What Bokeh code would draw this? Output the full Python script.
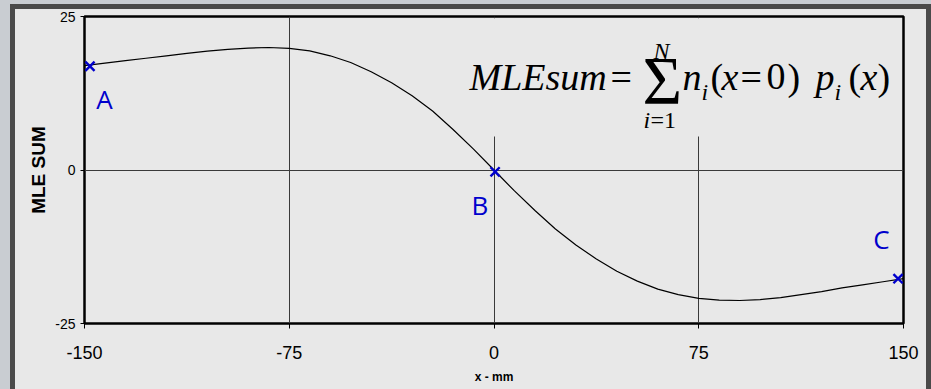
from bokeh.plotting import figure
from bokeh.models import Range1d, FixedTicker, Label, CustomJSTickFormatter, GlobalInlineStyleSheet
from bokeh.embed import file_html
from bokeh.resources import INLINE

# MLE sum profile along the x position (mm)
x_mm = [-150, -142.5, -135, -127.5, -120, -112.5, -105, -97.5, -90, -82.5,
        -75, -67.5, -60, -52.5, -45, -37.5, -30, -22.5, -15, -7.5,
        0, 7.5, 15, 22.5, 30, 37.5, 45, 52.5, 60, 67.5,
        75, 82.5, 90, 97.5, 105, 112.5, 120, 127.5, 135, 142.5, 150]
mle_sum = [17.0, 17.4, 17.8, 18.2, 18.6, 19.0, 19.35, 19.65, 19.85, 19.95,
           19.8, 19.4, 18.6, 17.5, 16.0, 14.2, 12.1, 9.6, 6.6, 3.4,
           0.0, -3.4, -6.6, -9.6, -12.2, -14.5, -16.5, -18.1, -19.4, -20.3,
           -20.9, -21.2, -21.25, -21.1, -20.8, -20.3, -19.8, -19.2, -18.7, -18.2, -17.7]

# marked positions A, B, C
point_names = ["A", "B", "C"]
point_x = [-148.0, 0.4, 148.0]
point_y = [16.9, -0.3, -17.7]

x_ticks = [-150, -75, 0, 75, 150]
y_ticks = [-25, 0, 25]

BG = "#e8e8e8"
BLUE = "#0000cc"

p = figure(width=931, height=389, output_backend="svg", toolbar_location=None,
           x_range=Range1d(-150, 150), y_range=Range1d(-25, 25),
           min_border_left=84, min_border_right=28, min_border_top=16, min_border_bottom=66,
           background_fill_color=BG, border_fill_color=None)

# window frame: pale outer strip with a dark rim, painted behind the transparent border area
p.stylesheets = [GlobalInlineStyleSheet(css="html, body { margin: 0; }")]
p.styles = {"background-color": BG,
            "box-shadow": ("inset 10px 4px 0px 0px #c9cdd2, "
                           "inset 15px 9px 0px 0px #4a4a4a, "
                           "inset -5px 0px 0px 0px #4a4a4a")}

p.outline_line_color = "black"
p.outline_line_width = 2.5

plain = CustomJSTickFormatter(code="return String(tick);")
p.xaxis.ticker = FixedTicker(ticks=x_ticks)
p.yaxis.ticker = FixedTicker(ticks=y_ticks)
for ax in (p.xaxis[0], p.yaxis[0]):
    ax.formatter = plain
    ax.axis_line_color = None
    ax.minor_tick_line_color = None
    ax.major_tick_in = 0
    ax.major_tick_line_color = "black"
    ax.major_label_text_font = "Liberation Sans"
    ax.major_label_text_color = "black"
    ax.axis_label_text_font = "Liberation Sans"
    ax.axis_label_text_font_style = "bold"
    ax.axis_label_text_color = "black"

p.xaxis.major_tick_out = 5
p.xaxis.major_label_text_font_size = "18px"
p.xaxis.major_label_standoff = 17
p.xaxis.axis_label = "x - mm"
p.xaxis.axis_label_text_font_size = "12px"
p.xaxis.axis_label_standoff = 8

p.yaxis.major_tick_out = 4
p.yaxis.major_label_text_font_size = "14px"
p.yaxis.major_label_standoff = 5
p.yaxis.axis_label = "MLE SUM"
p.yaxis.axis_label_text_font_size = "19px"
p.yaxis.axis_label_standoff = 3

p.grid.grid_line_color = "#3a3a3a"
p.grid.grid_line_width = 1

# plain panel behind the formula hides the grid lines there
p.quad(left=-5, right=149.3, bottom=5.46, top=24.7, fill_color=BG, line_color=None)

p.line(x_mm, mle_sum, line_color="black", line_width=1.2)
p.scatter(point_x, point_y, marker="x", size=13, line_color=BLUE, line_width=2.4)

label_pos = [(-142.7, 11.64), (-5.2, -5.78), (141.9, -11.3)]
for name, (lx, ly) in zip(point_names, label_pos):
    p.add_layout(Label(x=lx, y=ly, text=name, text_font="Open Sans", text_font_size="26px",
                       text_color=BLUE, text_align="center", text_baseline="alphabetic"))

# formula: MLEsum = sum_{i=1}^{N} n_i(x=0) p_i(x)
SERIF = "Liberation Serif"
MAIN_Y = 15.15
SUB_Y = 12.78
formula = [
    (-8.97, MAIN_Y, "MLEsum", "38px", "italic", "left"),
    (42.67, MAIN_Y, "=", "38px", "normal", "left"),
    (54.4, 14.6, "\u03a3", "68px", "normal", "left"),
    (61.36, 19.45, "N", "24px", "italic", "center"),
    (54.76, 8.2, "i", "24px", "italic", "left"),
    (57.33, 8.2, "=1", "24px", "normal", "left"),
    (69.05, MAIN_Y, "n", "38px", "italic", "left"),
    (76.01, SUB_Y, "i", "24px", "italic", "left"),
    (79.30, MAIN_Y, "(", "38px", "normal", "left"),
    (83.33, MAIN_Y, "x", "38px", "italic", "left"),
    (90.30, MAIN_Y, "=", "38px", "normal", "left"),
    (99.82, MAIN_Y, "0", "38px", "normal", "left"),
    (107.51, MAIN_Y, ")", "38px", "normal", "left"),
    (117.77, MAIN_Y, "p", "38px", "italic", "left"),
    (124.73, SUB_Y, "i", "24px", "italic", "left"),
    (129.86, MAIN_Y, "(", "38px", "normal", "left"),
    (134.25, MAIN_Y, "x", "38px", "italic", "left"),
    (140.48, MAIN_Y, ")", "38px", "normal", "left"),
]
for fx, fy, txt, size, style, align in formula:
    p.add_layout(Label(x=fx, y=fy, text=txt, text_font=SERIF, text_font_size=size,
                       text_font_style=style, text_color="black", text_align=align,
                       text_baseline="alphabetic"))

open("out.html", "w").write(file_html(p, INLINE))
